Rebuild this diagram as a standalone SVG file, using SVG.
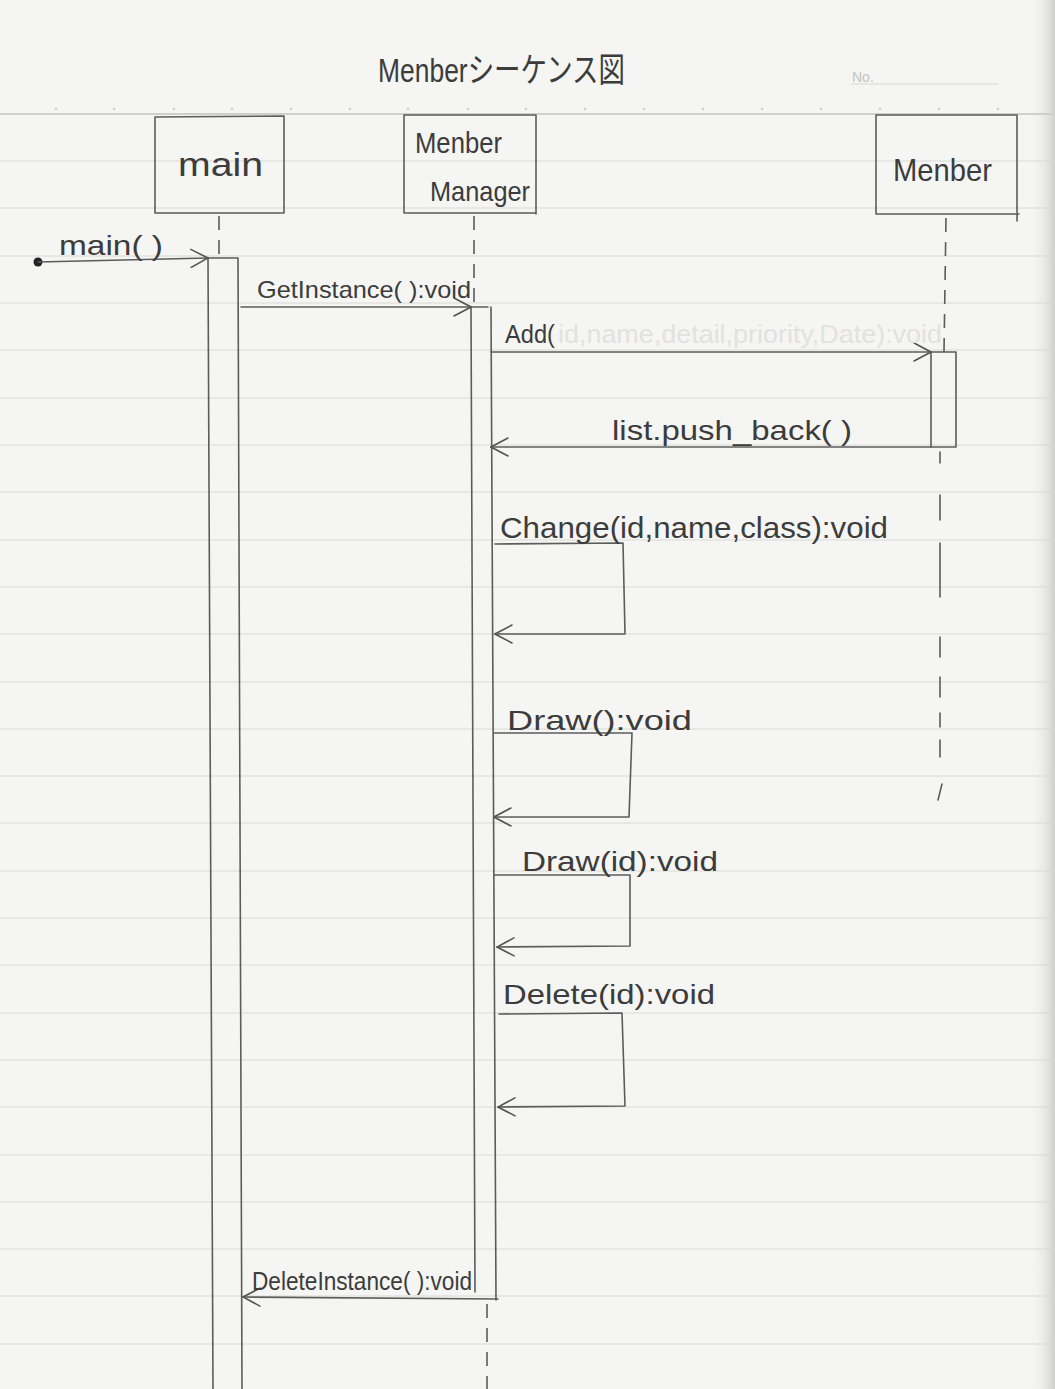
<svg xmlns="http://www.w3.org/2000/svg" width="1055" height="1389" viewBox="0 0 1055 1389">
  <defs>
    <style>
      .rule { stroke: #dadad6; stroke-width: 1.2; }
      .pencil { fill: none; stroke: #5c5c5c; stroke-width: 1.6; stroke-linecap: round; stroke-linejoin: round; }
      .dash { fill: none; stroke: #5c5c5c; stroke-width: 1.6; stroke-dasharray: 14 10; }
      .hand { font-family: "Liberation Sans", "Noto Sans CJK JP", sans-serif; fill: #3c3c3c; }
      .faint { font-family: "Liberation Sans", sans-serif; fill: #e2e2df; }
    </style>
    <marker id="open" viewBox="0 0 20 20" refX="19" refY="10" markerWidth="20" markerHeight="20" markerUnits="userSpaceOnUse" orient="auto">
      <path d="M2,1 L19,10 L2,19" fill="none" stroke="#555" stroke-width="1.6" stroke-linecap="round"/>
    </marker>
    <linearGradient id="edge" x1="0" y1="0" x2="1" y2="0">
      <stop offset="0" stop-color="#f4f4f2" stop-opacity="0"/>
      <stop offset="1" stop-color="#cfcfcc"/>
    </linearGradient>
  </defs>

  <!-- notebook paper -->
  <rect x="0" y="0" width="1055" height="1389" fill="#f5f5f3"/>
  <rect x="1030" y="0" width="25" height="1389" fill="url(#edge)"/>
  <g id="ruling">
    <line x1="0" y1="114" x2="1055" y2="114" stroke="#cfcfcb" stroke-width="2"/>
    <line class="rule" x1="0" y1="161" x2="1055" y2="161"/>
    <line class="rule" x1="0" y1="208" x2="1055" y2="208"/>
    <line class="rule" x1="0" y1="256" x2="1055" y2="256"/>
    <line class="rule" x1="0" y1="303" x2="1055" y2="303"/>
    <line class="rule" x1="0" y1="350" x2="1055" y2="350"/>
    <line class="rule" x1="0" y1="398" x2="1055" y2="398"/>
    <line class="rule" x1="0" y1="445" x2="1055" y2="445"/>
    <line class="rule" x1="0" y1="492" x2="1055" y2="492"/>
    <line class="rule" x1="0" y1="540" x2="1055" y2="540"/>
    <line class="rule" x1="0" y1="587" x2="1055" y2="587"/>
    <line class="rule" x1="0" y1="634" x2="1055" y2="634"/>
    <line class="rule" x1="0" y1="682" x2="1055" y2="682"/>
    <line class="rule" x1="0" y1="729" x2="1055" y2="729"/>
    <line class="rule" x1="0" y1="776" x2="1055" y2="776"/>
    <line class="rule" x1="0" y1="823" x2="1055" y2="823"/>
    <line class="rule" x1="0" y1="871" x2="1055" y2="871"/>
    <line class="rule" x1="0" y1="918" x2="1055" y2="918"/>
    <line class="rule" x1="0" y1="965" x2="1055" y2="965"/>
    <line class="rule" x1="0" y1="1013" x2="1055" y2="1013"/>
    <line class="rule" x1="0" y1="1060" x2="1055" y2="1060"/>
    <line class="rule" x1="0" y1="1107" x2="1055" y2="1107"/>
    <line class="rule" x1="0" y1="1155" x2="1055" y2="1155"/>
    <line class="rule" x1="0" y1="1202" x2="1055" y2="1202"/>
    <line class="rule" x1="0" y1="1249" x2="1055" y2="1249"/>
    <line class="rule" x1="0" y1="1296" x2="1055" y2="1296"/>
    <line class="rule" x1="0" y1="1344" x2="1055" y2="1344"/>
    <!-- tick dots on the header line -->
    <g fill="#cdcdca">
      <circle cx="56" cy="109" r="1.3"/><circle cx="114" cy="109" r="1.3"/><circle cx="174" cy="109" r="1.3"/>
      <circle cx="232" cy="109" r="1.3"/><circle cx="291" cy="109" r="1.3"/><circle cx="350" cy="109" r="1.3"/>
      <circle cx="408" cy="109" r="1.3"/><circle cx="468" cy="109" r="1.3"/><circle cx="526" cy="109" r="1.3"/>
      <circle cx="585" cy="109" r="1.3"/><circle cx="644" cy="109" r="1.3"/><circle cx="703" cy="109" r="1.3"/>
      <circle cx="762" cy="109" r="1.3"/><circle cx="821" cy="109" r="1.3"/><circle cx="880" cy="109" r="1.3"/>
      <circle cx="939" cy="109" r="1.3"/><circle cx="998" cy="109" r="1.3"/>
    </g>
    <text x="852" y="82" font-family="Liberation Sans, sans-serif" font-size="14" fill="#c4c4c0">No.</text>
    <line x1="851" y1="84" x2="998" y2="84" stroke="#d6d6d2" stroke-width="1"/>
  </g>

  <!-- title -->
  <text id="title" class="hand" x="378" y="82" font-size="34" textLength="247" lengthAdjust="spacingAndGlyphs">Menberシーケンス図</text>

  <!-- lifeline: main -->
  <g id="node-main">
    <path class="pencil" d="M155,117 L284,116 L284,213 L155,213 Z"/>
    <text class="hand" x="178" y="176" font-size="34" textLength="85" lengthAdjust="spacingAndGlyphs">main</text>
    <line class="dash" x1="219" y1="216" x2="219" y2="258" stroke-dasharray="14 8"/>
    <path class="pencil" d="M208,258 L213,1389 M238,258 L242,1389 M208,258 L238,258"/>
  </g>

  <!-- lifeline: Menber Manager -->
  <g id="node-manager">
    <path class="pencil" d="M404,115 L536,115 L536,214 M404,115 L404,213 L536,213"/>
    <text class="hand" x="415" y="153" font-size="30" textLength="87" lengthAdjust="spacingAndGlyphs">Menber</text>
    <text class="hand" x="430" y="201" font-size="28" textLength="100" lengthAdjust="spacingAndGlyphs">Manager</text>
    <line class="dash" x1="474" y1="216" x2="474" y2="307"/>
    <path class="pencil" d="M471,307 L475,1292 M491,307 L496,1300 M471,307 L488,307"/>
    <line class="dash" x1="487" y1="1304" x2="487" y2="1389"/>
  </g>

  <!-- lifeline: Menber -->
  <g id="node-member">
    <path class="pencil" d="M876,115 L1017,115 L1017,221 M876,115 L876,214 L1019,214"/>
    <text class="hand" x="893" y="181" font-size="32" textLength="99" lengthAdjust="spacingAndGlyphs">Menber</text>
    <line class="dash" x1="946" y1="218" x2="944" y2="352" stroke-dasharray="13 12"/>
    <rect class="pencil" x="931" y="352" width="25" height="95"/>
    <path class="pencil" d="M940,452 L940,463 M940,495 L940,520 M940,543 L940,597 M940,637 L940,657 M940,677 L940,697 M940,713 L940,727 M940,740 L940,757 M942,784 L938,800"/>
  </g>

  <!-- messages -->
  <g id="connectors">
    <circle cx="38" cy="262" r="4.5" fill="#222"/>
    <path class="pencil" d="M38,262 L208,258" marker-end="url(#open)"/>
    <path class="pencil" d="M241,307 L471,307" marker-end="url(#open)"/>
    <path class="pencil" d="M491,352 L931,352" marker-end="url(#open)"/>
    <path class="pencil" d="M931,447 L491,447" marker-end="url(#open)"/>
    <path class="pencil" d="M495,544 L623,543 L625,634 L495,634" marker-end="url(#open)"/>
    <path class="pencil" d="M494,733 L632,733 L629,817 L494,817" marker-end="url(#open)"/>
    <path class="pencil" d="M494,875 L630,875 L630,946 L497,947" marker-end="url(#open)"/>
    <path class="pencil" d="M499,1014 L622,1013 L625,1106 L498,1107" marker-end="url(#open)"/>
    <path class="pencil" d="M498,1299 L243,1297" marker-end="url(#open)" stroke-width="2"/>
  </g>

  <!-- message labels -->
  <g id="labels">
    <text class="hand" x="59" y="255" font-size="28" textLength="104" lengthAdjust="spacingAndGlyphs">main( )</text>
    <text class="hand" x="257" y="298" font-size="24" textLength="214" lengthAdjust="spacingAndGlyphs">GetInstance( ):void</text>
    <text class="hand" x="505" y="343" font-size="25" textLength="50" lengthAdjust="spacingAndGlyphs">Add(</text>
    <text class="faint" x="558" y="343" font-size="25" textLength="384" lengthAdjust="spacingAndGlyphs">id,name,detail,priority,Date):void</text>
    <text class="hand" x="612" y="440" font-size="28" textLength="240" lengthAdjust="spacingAndGlyphs">list.push_back( )</text>
    <text class="hand" x="500" y="538" font-size="30" textLength="388" lengthAdjust="spacingAndGlyphs">Change(id,name,class):void</text>
    <text class="hand" x="507" y="730" font-size="28" textLength="185" lengthAdjust="spacingAndGlyphs">Draw():void</text>
    <text class="hand" x="522" y="871" font-size="28" textLength="196" lengthAdjust="spacingAndGlyphs">Draw(id):void</text>
    <text class="hand" x="503" y="1004" font-size="28" textLength="212" lengthAdjust="spacingAndGlyphs">Delete(id):void</text>
    <text class="hand" x="252" y="1290" font-size="26" textLength="220" lengthAdjust="spacingAndGlyphs">DeleteInstance( ):void</text>
  </g>
</svg>
